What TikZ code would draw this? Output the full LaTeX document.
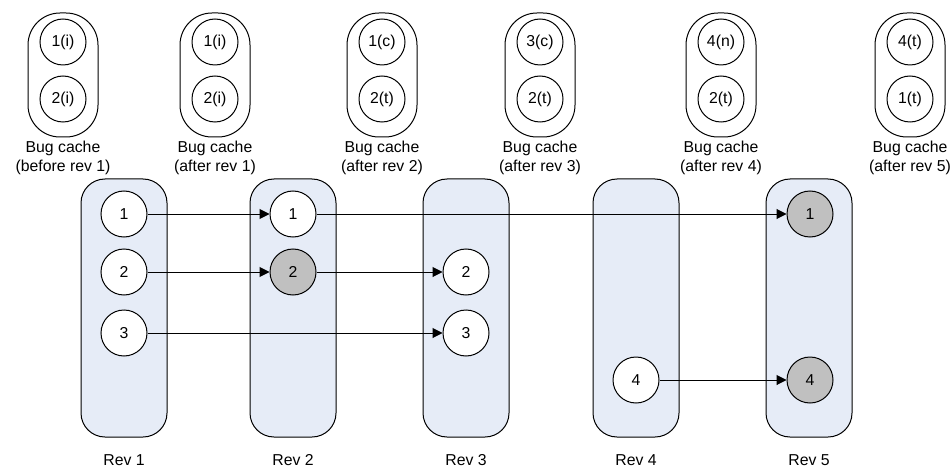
\documentclass[tikz,border=0pt]{standalone}
\usepackage{fontspec}
\setmainfont{Liberation Sans}
\usetikzlibrary{arrows.meta}
\definecolor{revfill}{HTML}{E6ECF7}
\definecolor{hitgray}{HTML}{C0C0C0}

\begin{document}
\begin{tikzpicture}[x=0.5pt,y=-0.5pt,line width=0.5pt,font=\fontsize{7.9}{9.5}\selectfont]
  \tikzstyle{every node}=[inner sep=0pt]
  \tikzstyle{revbox}=[draw,fill=revfill,rounded corners=12pt,minimum width=43pt,minimum height=129pt]
  \tikzstyle{cachebox}=[draw,rounded corners=16pt,minimum width=35pt,minimum height=62pt]
  \tikzstyle{bug}=[draw,circle,fill=white,minimum size=23pt]
  \tikzstyle{fixed}=[bug,fill=hitgray]
  \tikzstyle{link}=[-{Triangle[length=5pt,width=5pt]}]
  \useasboundingbox (0,0) rectangle (951,470);

  % bug caches along the top
  \foreach \n/\cx/\bugA/\bugB/\when in {1/63/1(i)/2(i)/before rev 1, 2/215/1(i)/2(i)/after rev 1,
      3/382/1(c)/2(t)/after rev 2, 4/540/3(c)/2(t)/after rev 3,
      5/721/4(n)/2(t)/after rev 4, 6/910/4(t)/1(t)/after rev 5}{
    \node[cachebox] (cache\n) at (\cx,75) {};
    \node[bug] (cache\n a) at (\cx,42) {\bugA};
    \node[bug] (cache\n b) at (\cx,99) {\bugB};
    \node[align=center] (cachelabel\n) at (\cx,158) {Bug cache\\(\when)};
  }

  % revisions
  \foreach \n/\cx in {1/124,2/293,3/466,4/636,5/809}{
    \node[revbox] (rev\n) at (\cx,308) {};
    \node (revlabel\n) at (\cx,460) {Rev \n};
  }

  \node[bug] (r1a) at (124,214) {1};
  \node[bug] (r1b) at (124,272) {2};
  \node[bug] (r1c) at (124,333) {3};
  \node[bug] (r2a) at (293,214) {1};
  \node[fixed] (r2b) at (293,272) {2};
  \node[bug] (r3b) at (466,272) {2};
  \node[bug] (r3c) at (466,333) {3};
  \node[bug] (r4d) at (636,380) {4};
  \node[fixed] (r5a) at (810,214) {1};
  \node[fixed] (r5d) at (810,380) {4};

  \draw[link] (r1a) -- (r2a);
  \draw[link] (r1b) -- (r2b);
  \draw[link] (r1c) -- (r3c);
  \draw[link] (r2b) -- (r3b);
  \draw[link] (r2a) -- (r5a);
  \draw[link] (r4d) -- (r5d);

\end{tikzpicture}
\end{document}
